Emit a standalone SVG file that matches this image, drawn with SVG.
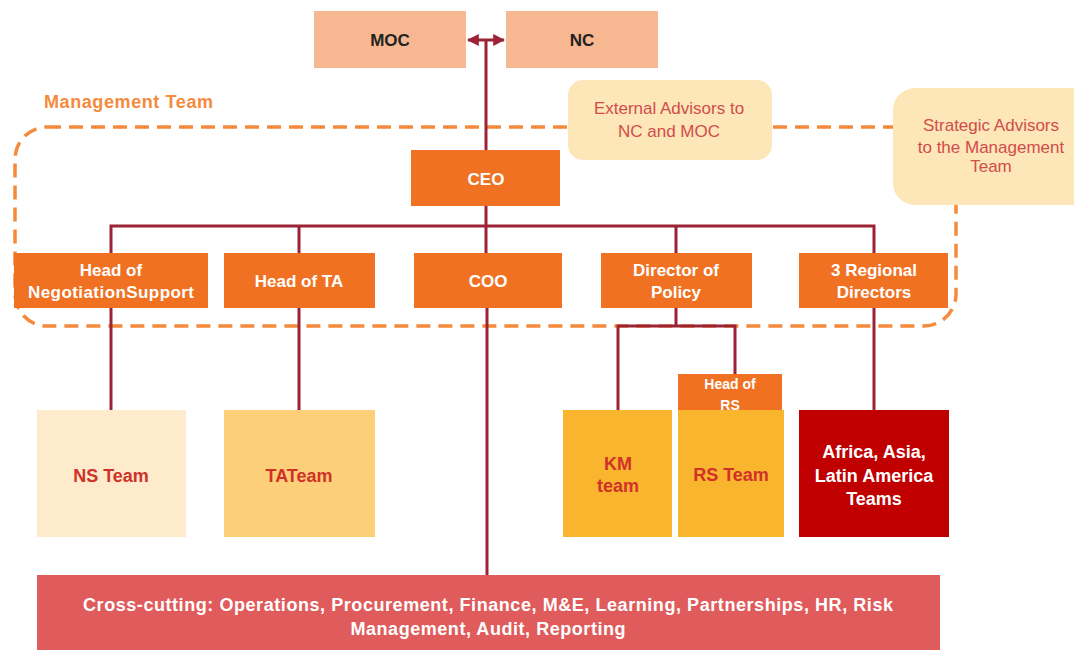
<svg xmlns="http://www.w3.org/2000/svg" width="1074" height="650" viewBox="0 0 1074 650">
  <defs>
    <marker id="arrow" viewBox="0 0 10 10" refX="9" refY="5" markerWidth="4" markerHeight="4" orient="auto-start-reverse">
      <path d="M0,0 L10,5 L0,10 z" fill="#9b2335"/>
    </marker>
    <style>
      text { font-family: "Liberation Sans", Arial, sans-serif; text-anchor: middle; }
      .link { fill: none; stroke: #9b2335; stroke-width: 3; }
      .board { fill: #f7b891; }
      .lead { fill: #f07122; }
      .lead-t { fill: #ffffff; font-size: 17px; font-weight: bold; }
      .advisor { fill: #fde6b7; }
      .advisor-t { fill: #d24c4c; font-size: 17px; }
      .team-t { fill: #d0322a; font-size: 18px; font-weight: bold; }
      .region-t { fill: #ffffff; font-size: 18px; font-weight: bold; }
      .cross-t { fill: #ffffff; font-size: 18px; font-weight: bold; }
    </style>
  </defs>

  <rect width="1074" height="650" fill="#ffffff"/>

  <!-- management team boundary -->
  <g id="management-team">
    <rect x="15" y="127" width="941" height="199" rx="32" fill="none" stroke="#f58a3c" stroke-width="3.5" stroke-dasharray="14,8"/>
    <text x="44" y="108" textLength="169" style="text-anchor:start;font-size:18px;font-weight:bold;fill:#f58a3c">Management Team</text>
  </g>

  <!-- connectors -->
  <g id="connectors">
    <line class="link" x1="468" y1="40" x2="504" y2="40" marker-start="url(#arrow)" marker-end="url(#arrow)"/>
    <line class="link" x1="486" y1="40" x2="486" y2="150"/>
    <line class="link" x1="486" y1="206" x2="486" y2="253"/>
    <polyline class="link" points="111,253 111,226 874,226 874,253"/>
    <line class="link" x1="299" y1="226" x2="299" y2="253"/>
    <line class="link" x1="676" y1="226" x2="676" y2="253"/>
    <line class="link" x1="111" y1="308" x2="111" y2="410"/>
    <line class="link" x1="299" y1="308" x2="299" y2="410"/>
    <line class="link" x1="487" y1="308" x2="487" y2="575"/>
    <line class="link" x1="676" y1="308" x2="676" y2="326"/>
    <polyline class="link" points="618,410 618,326 735,326 735,374"/>
    <line class="link" x1="874" y1="308" x2="874" y2="410"/>
  </g>

  <g id="moc">
    <rect class="board" x="314" y="11" width="152" height="57"/>
    <text x="390" y="46" style="font-size:17px;font-weight:bold;fill:#222">MOC</text>
  </g>
  <g id="nc">
    <rect class="board" x="506" y="11" width="152" height="57"/>
    <text x="582" y="46" style="font-size:17px;font-weight:bold;fill:#222">NC</text>
  </g>

  <g id="external-advisors">
    <rect class="advisor" x="568" y="80" width="204" height="80" rx="15"/>
    <text class="advisor-t" x="669" y="114">External Advisors to</text>
    <text class="advisor-t" x="669" y="137">NC and MOC</text>
  </g>
  <g id="strategic-advisors">
    <rect class="advisor" x="893" y="88" width="200" height="117" rx="22"/>
    <text class="advisor-t" x="991" y="131">Strategic Advisors</text>
    <text class="advisor-t" x="991" y="153">to the Management</text>
    <text class="advisor-t" x="991" y="172">Team</text>
  </g>

  <g id="ceo">
    <rect class="lead" x="411" y="150" width="149" height="56"/>
    <text class="lead-t" x="486" y="185">CEO</text>
  </g>

  <g id="head-ns">
    <rect class="lead" x="14" y="253" width="194" height="55"/>
    <text class="lead-t" x="111" y="276">Head of</text>
    <text class="lead-t" x="111" y="298" textLength="166">NegotiationSupport</text>
  </g>
  <g id="head-ta">
    <rect class="lead" x="224" y="253" width="151" height="55"/>
    <text class="lead-t" x="299" y="287">Head of TA</text>
  </g>
  <g id="coo">
    <rect class="lead" x="414" y="253" width="148" height="55"/>
    <text class="lead-t" x="488" y="287">COO</text>
  </g>
  <g id="director-policy">
    <rect class="lead" x="601" y="253" width="151" height="55"/>
    <text class="lead-t" x="676" y="276">Director of</text>
    <text class="lead-t" x="676" y="298">Policy</text>
  </g>
  <g id="regional-directors">
    <rect class="lead" x="799" y="253" width="149" height="55"/>
    <text class="lead-t" x="874" y="276">3 Regional</text>
    <text class="lead-t" x="874" y="298">Directors</text>
  </g>

  <g id="ns-team">
    <rect x="37" y="410" width="149" height="127" fill="#fdebcb"/>
    <text class="team-t" x="111" y="482">NS Team</text>
  </g>
  <g id="ta-team">
    <rect x="224" y="410" width="151" height="127" fill="#fccf78"/>
    <text class="team-t" x="299" y="482">TATeam</text>
  </g>
  <g id="km-team">
    <rect x="563" y="410" width="109" height="127" fill="#f9b52e"/>
    <text class="team-t" x="618" y="470">KM</text>
    <text class="team-t" x="618" y="492">team</text>
  </g>
  <g id="head-rs">
    <rect class="lead" x="678" y="374" width="104" height="36"/>
    <text x="730" y="389" style="fill:#fff;font-size:14px;font-weight:bold">Head of</text>
    <text x="730" y="410" style="fill:#fff;font-size:14px;font-weight:bold">RS</text>
  </g>
  <g id="rs-team">
    <rect x="678" y="410" width="106" height="127" fill="#f9b52e"/>
    <text class="team-t" x="731" y="481">RS Team</text>
  </g>
  <g id="regional-teams">
    <rect x="799" y="410" width="150" height="127" fill="#c00000"/>
    <text class="region-t" x="874" y="458">Africa, Asia,</text>
    <text class="region-t" x="874" y="482">Latin America</text>
    <text class="region-t" x="874" y="505">Teams</text>
  </g>

  <g id="cross-cutting">
    <rect x="37" y="575" width="903" height="80" fill="#e05c5c"/>
    <text class="cross-t" x="488" y="611" textLength="810">Cross-cutting: Operations, Procurement, Finance, M&amp;E, Learning, Partnerships, HR, Risk</text>
    <text class="cross-t" x="488" y="635" textLength="275">Management, Audit, Reporting</text>
  </g>
</svg>
